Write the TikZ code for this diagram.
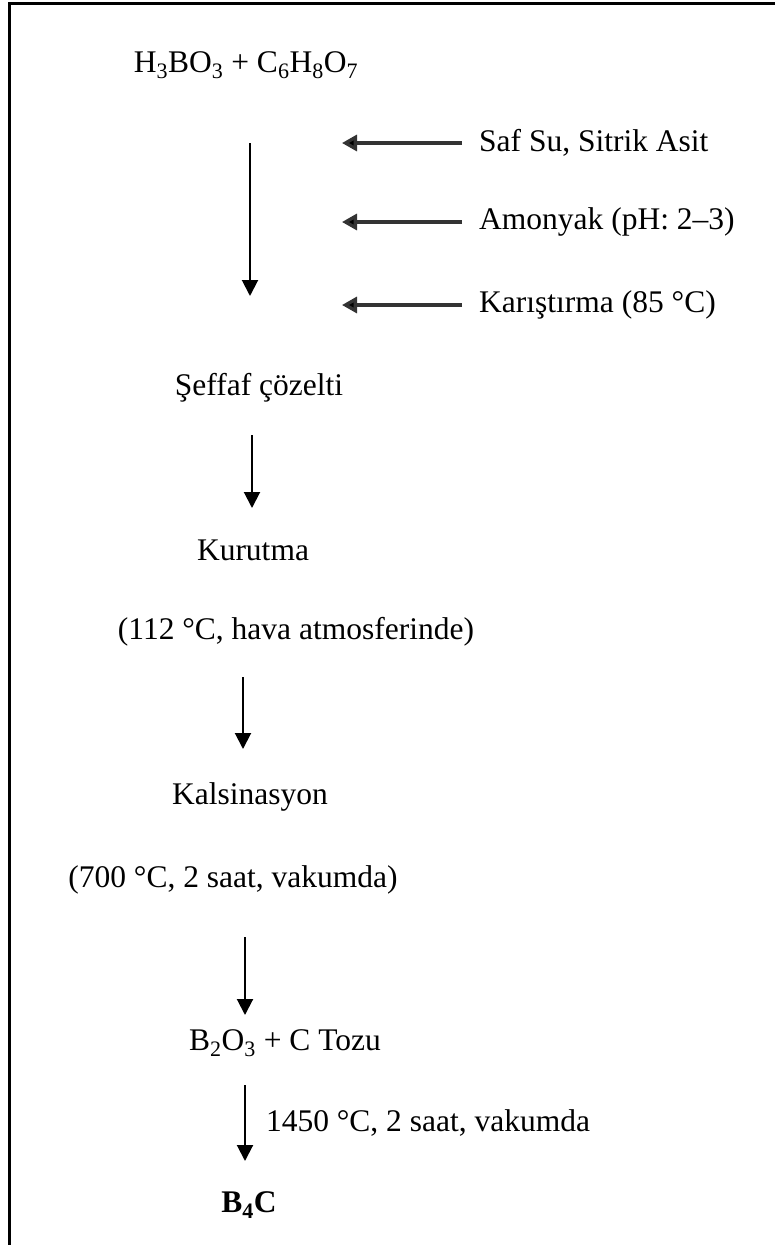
\documentclass[tikz,border=0pt]{standalone}
\usepackage{fontspec}
\setmainfont{Liberation Serif}
\usetikzlibrary{arrows.meta}
\newcommand\sbs[1]{\textsubscript{#1}}
\begin{document}
\begin{tikzpicture}[x=1pt,y=-1pt,
  txt/.style={inner sep=0pt,font=\fontsize{31.5}{38}\selectfont},
  flow/.style={line width=2pt,-{Triangle[width=16pt,length=16pt]}},
  side/.style={line width=3.3pt,draw=black!80,-{Triangle[width=16pt,length=15pt,fill=black]}},
  frameline/.style={line width=3pt,line cap=rect}]
\useasboundingbox (0,0) rectangle (774,1245);
\draw[frameline] (9,1250) -- (9,3.5) -- (780,3.5);
% nodes
\node[txt] (h) at (246,65) {H\sbs{3}BO\sbs{3} + C\sbs{6}H\sbs{8}O\sbs{7}};
\node[txt,anchor=west] (saf) at (479,143) {Saf Su, Sitrik Asit};
\node[txt,anchor=west] (amo) at (479,222) {Amonyak (pH: 2\textendash3)};
\node[txt,anchor=west] (kar) at (479,305) {Karıştırma (85 °C)};
\node[txt] (sef) at (259,388) {Şeffaf çözelti};
\node[txt] (kur) at (253,550) {Kurutma};
\node[txt] (kurc) at (296,632) {(112 °C, hava atmosferinde)};
\node[txt] (kal) at (250,797) {Kalsinasyon};
\node[txt] (kalc) at (233,880) {(700 °C, 2 saat, vakumda)};
\node[txt] (bo) at (285,1043) {B\sbs{2}O\sbs{3} + C Tozu};
\node[txt] (bc) at (249,1205) {\bfseries B\sbs{4}C};
% coordinates for arrow ends
\coordinate (a1s) at (250,143);
\coordinate (a1e) at (250,296);
\coordinate (t1) at (342,143);
\coordinate (t2) at (342,222);
\coordinate (t3) at (342,305);
\coordinate (a2s) at (252,435);
\coordinate (a2e) at (252,508);
\coordinate (a3s) at (243,677);
\coordinate (a3e) at (243,749);
\coordinate (a4s) at (245,937);
\coordinate (a4e) at (245,1015);
\coordinate (a5s) at (245,1085);
\coordinate (a5e) at (245,1161);
% connectors
\draw[side] ([xshift=-17pt]saf.west) -- (t1);
\draw[side] ([xshift=-17pt]amo.west) -- (t2);
\draw[side] ([xshift=-17pt]kar.west) -- (t3);
\draw[flow] (a1s) -- (a1e);
\draw[flow] (a2s) -- (a2e);
\draw[flow] (a3s) -- (a3e);
\draw[flow] (a4s) -- (a4e);
\draw[flow] (a5s) -- node[txt,anchor=west,xshift=20pt] (lbl) {1450 °C, 2 saat, vakumda} (a5e);
\end{tikzpicture}
\end{document}
